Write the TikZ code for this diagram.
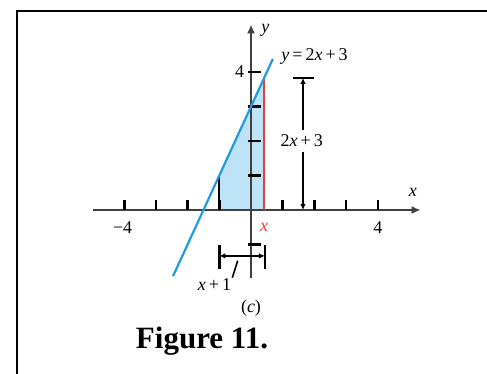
\documentclass[tikz,border=0pt]{standalone}
\usepackage{fontspec}
\setmainfont{Liberation Serif}
\usetikzlibrary{arrows.meta}
\definecolor{lineblue}{RGB}{32,154,224}
\definecolor{shadeblue}{RGB}{190,226,246}
\definecolor{redline}{RGB}{232,60,60}
\begin{document}
\begin{tikzpicture}[x=1pt,y=-1pt,
  lbl/.style={font=\fontsize{18}{18}\selectfont, inner sep=1pt},
  axisline/.style={line width=2.3pt, draw=black!75},
  tickmark/.style={line width=2.6pt, draw=black},
  dimline/.style={line width=2pt, draw=black},
  tipA/.style={-{Latex[length=6pt,width=5.5pt]}},
  tipAx/.style={-{Latex[length=9pt,width=8pt]}}]
\useasboundingbox (0,0) rectangle (487,374);
\fill[white] (0,0) rectangle (487,374);
\draw[line width=2.4pt] (17,374) -- (17,11) -- (487,11);
\node[font=\bfseries\fontsize{31}{31}\selectfont, anchor=base, inner sep=0pt] (fig) at (202,348) {Figure 11.};
\begin{scope}[shift={(251pt,-210pt)}, x=31.7pt, y=34.5pt]
  % shaded region
  \fill[shadeblue] (-1,0) -- (-1,1) -- (0.4,3.8) -- (0.4,0) -- cycle;
  % axes
  \coordinate (xl) at (-5,0);
  \coordinate (xright) at (5.35,0);
  \coordinate (yb) at (0,-1.97);
  \coordinate (yt) at (0,5.38);
  \draw[axisline, tipAx] (xl) -- (xright);
  \draw[axisline, tipAx] (yb) -- (yt);
  \foreach \i in {-4,-3,-2,-1,1,2,3,4} \draw[tickmark] (\i,0) -- (\i,0.3);
  \foreach \j in {-1,1,2,3,4} \draw[tickmark] (-0.08,\j) -- (0.3,\j);
  % vertical segments
  \coordinate (a0) at (-1,0); \coordinate (a1) at (-1,1);
  \draw[line width=2pt] (a0) -- (a1);
  \coordinate (r0) at (0.4,0); \coordinate (r1) at (0.4,3.8);
  \draw[redline, line width=2pt] (r0) -- (r1);
  % the line y=2x+3
  \coordinate (l0) at (-2.46,-1.92); \coordinate (l1) at (0.69,4.38);
  \draw[lineblue, line width=2.2pt] (l0) -- (l1);
  % vertical dimension
  \coordinate (vb1) at (1.32,3.83); \coordinate (vb2) at (1.98,3.83);
  \coordinate (vtop) at (1.64,3.83); \coordinate (vbot) at (1.64,0);
  \draw[dimline, line width=2.6pt] (vb1) -- (vb2);
  \node[lbl, inner ysep=5pt] (vlab) at (1.6,2.0) {2\textit{x}\,+\,3};
  \draw[dimline, tipA] (vlab.north -| vtop) -- (vtop);
  \draw[dimline, tipA] (vlab.south -| vtop) -- (vbot);
  % horizontal dimension
  \coordinate (hl1) at (-1,-1.0); \coordinate (hl2) at (-1,-1.7);
  \coordinate (hr1) at (0.44,-1.0); \coordinate (hr2) at (0.44,-1.7);
  \coordinate (hl) at (-1,-1.33); \coordinate (hr) at (0.44,-1.33);
  \draw[dimline, line width=2.6pt] (hl1) -- (hl2);
  \draw[dimline, line width=2.6pt] (hr1) -- (hr2);
  \draw[dimline, {Latex[length=6pt,width=5.5pt]}-{Latex[length=6pt,width=5.5pt]}] (hl) -- (hr);
  \node[lbl] (hlab) at (-1.15,-2.17) {\textit{x}\,+\,1};
  \coordinate (lead) at (-0.42,-1.47);
  \draw[line width=1.6pt] (hlab.north east) -- (lead);
  % labels
  \node[lbl, text=redline] (xred) at (0.41,-0.5) {\textit{x}};
  \node[lbl] (m4) at (-4.05,-0.52) {−4};
  \node[lbl] (p4) at (4,-0.52) {4};
  \node[lbl] (y4) at (-0.36,4.02) {4};
  \node[lbl] (ylab) at (0.45,5.22) {\textit{y}};
  \node[lbl] (xlab) at (5.11,0.5) {\textit{x}};
  \node[lbl, anchor=west] (eq) at (0.92,4.45) {\textit{y}\,=\,2\textit{x}\,+\,3};
  \node[lbl] (cap) at (0,-2.84) {(\textit{c})};
\end{scope}
\end{tikzpicture}
\end{document}
